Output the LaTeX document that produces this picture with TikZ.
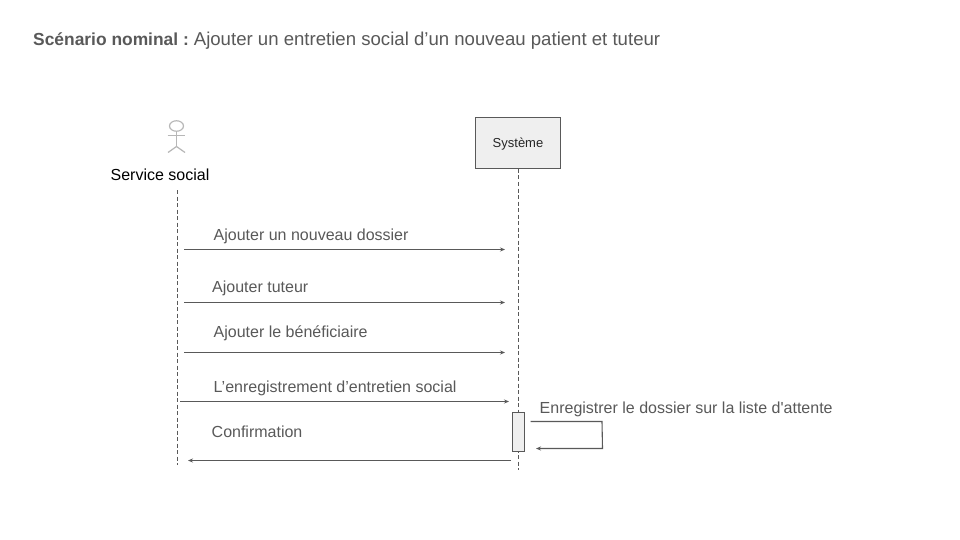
\documentclass[tikz,border=0pt]{standalone}
\usepackage{fontspec}
\setmainfont{Liberation Sans}
\newfontfamily\plainf{Liberation Sans}
\usetikzlibrary{arrows.meta,shapes.geometric}
\definecolor{ln}{HTML}{595959}
\definecolor{actorc}{HTML}{B7B7B7}
\definecolor{boxf}{HTML}{EFEFEF}
\tikzset{
  x=1pt,y=-1pt,
  msgtext/.style={text=ln,font=\plainf\fontsize{16}{19}\selectfont,inner sep=0pt,anchor=base west},
  lifeline/.style={draw=ln,line width=0.9pt,dash pattern=on 4pt off 2.5pt},
  msg/.style={draw=ln,line width=1.1pt,-{Stealth[length=5pt,width=4pt]}},
  limb/.style={draw=actorc,line width=1.2pt},
  boxed/.style={draw=ln,fill=boxf,line width=1pt,inner sep=0pt}
}
\begin{document}
\begin{tikzpicture}
\useasboundingbox (0,0) rectangle (960,540);
\fill[white] (0,0) rectangle (960,540);
\node[anchor=base west,inner sep=0pt,text=ln] (title) at (33,46) {{\fontsize{17.4}{22}\selectfont\bfseries Scénario nominal :}\hspace{5pt}{\fontsize{18.6}{22}\selectfont Ajouter un entretien social d’un nouveau patient et tuteur}};
% actor
\node[draw=actorc,line width=1.2pt,ellipse,minimum width=14pt,minimum height=10.5pt,inner sep=0pt] (head) at (176.5,126) {};
\coordinate (crotch) at (176.5,146.5);
\coordinate (armL) at (167.5,135.5);
\coordinate (armR) at (185,135.5);
\coordinate (legL) at (168,152.5);
\coordinate (legR) at (185,152.5);
\draw[limb] (head.south) -- (crotch);
\draw[limb] (armL) -- (armR);
\draw[limb] (legL) -- (crotch) -- (legR);
\node[anchor=base,inner sep=0pt,font=\fontsize{16}{19}\selectfont] (actor) at (160,180) {Service social};
\node[boxed,minimum width=85pt,minimum height=51pt,font=\fontsize{13}{16}\selectfont,text=black!85,text depth=0pt,text height=10pt] (sys) at (518,143) {Système};
% lifelines
\coordinate (actorTop) at (177.5,190);
\coordinate (actorEnd) at (177.5,465);
\coordinate (sysEnd) at (518.5,470);
\draw[lifeline] (actorTop) -- (actorEnd);
\draw[lifeline] (sys.south -| sysEnd) -- (sysEnd);
\node[boxed,minimum width=12pt,minimum height=39pt] (act) at (518.5,431.5) {};
% messages
\coordinate (a1) at (184,249.5); \coordinate (b1) at (505,249.5);
\coordinate (a2) at (184,302.5); \coordinate (b2) at (505,302.5);
\coordinate (a3) at (184,352.5); \coordinate (b3) at (505,352.5);
\coordinate (a4) at (180,401.5); \coordinate (b4) at (509,401.5);
\coordinate (a5) at (511,460.5); \coordinate (b5) at (188,460.5);
\coordinate (s1) at (530.5,421.5); \coordinate (s2) at (602,421.5);
\coordinate (s3) at (602.5,448.5); \coordinate (s4) at (536,448.5);
\draw[msg] (a1) -- (b1);
\draw[msg] (a2) -- (b2);
\draw[msg] (a3) -- (b3);
\draw[msg] (a4) -- (b4);
\draw[msg] (a5) -- (b5);
\draw[msg] (s1) -- (s2) -- (s3) -- (s4);
\node[msgtext] (m1) at (213.5,240) {Ajouter un nouveau dossier};
\node[msgtext] (m2) at (212,292.5) {Ajouter tuteur};
\node[msgtext] (m3) at (213.5,337.5) {Ajouter le bénéficiaire};
\node[msgtext] (m4) at (213.5,392) {L’enregistrement d’entretien social};
\node[msgtext] (m5) at (211.5,437) {Confirmation};
\node[msgtext] (m6) at (539.5,413) {Enregistrer le dossier sur la liste d'attente};
\end{tikzpicture}
\end{document}
